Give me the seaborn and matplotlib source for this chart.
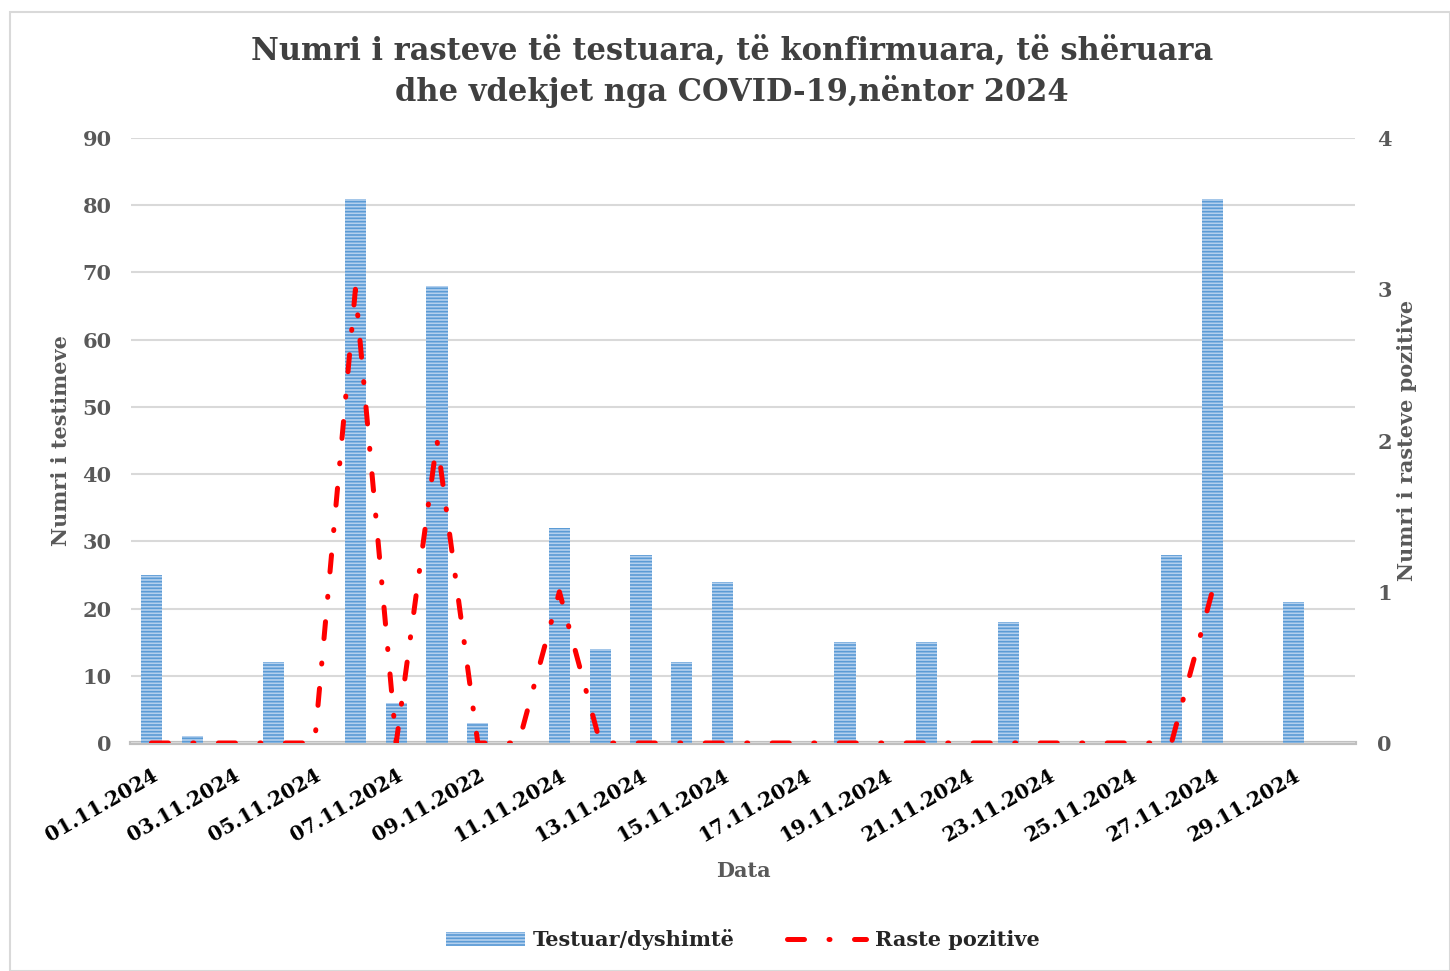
import matplotlib
matplotlib.use("Agg")
import matplotlib.pyplot as plt
import seaborn as sns
import numpy as np
import pandas as pd
from matplotlib.patches import Rectangle
from matplotlib.lines import Line2D

# ---- data ----
days = [f"{d:02d}.11.2024" for d in range(1, 31)]
tick_labels = ["01.11.2024", "03.11.2024", "05.11.2024", "07.11.2024", "09.11.2022",
               "11.11.2024", "13.11.2024", "15.11.2024", "17.11.2024", "19.11.2024",
               "21.11.2024", "23.11.2024", "25.11.2024", "27.11.2024", "29.11.2024"]
tested = [25, 1, 0, 12, 0, 81, 6, 68, 3, 0,
          32, 14, 28, 12, 24, 0, 0, 15, 0, 15,
          0, 18, 0, 0, 0, 28, 81, 0, 21, 0]
positive = [0, 0, 0, 0, 0, 3, 0, 2, 0, 0,
            1, 0, 0, 0, 0, 0, 0, 0, 0, 0,
            0, 0, 0, 0, 0, 0, 1]

title = "Numri i rasteve të testuara, të konfirmuara, të shëruara\ndhe vdekjet nga COVID-19,nëntor 2024"

sns.set_theme(style="white")
plt.rcParams['font.family'] = ['DejaVu Serif']
plt.rcParams['hatch.linewidth'] = 1.2
plt.rcParams['hatch.color'] = '#5B9BD5'

LW = 3.6
LINE_DASH = (3.4, 4.9, 0.2, 4.9)

fig = plt.figure(figsize=(14.5, 9.71), dpi=100)
ax = fig.add_axes([131/1450, 1 - 743/971, (1355-131)/1450, (743-138)/971])

df = pd.DataFrame({"day": days, "tested": tested})
sns.barplot(data=df, x="day", y="tested", ax=ax, color="#B4D0EE", width=0.52,
            saturation=1, linewidth=0)
for p in ax.patches:
    p.set_hatch("-----")
    p.set_edgecolor("#5B9BD5")
    p.set_linewidth(0)

ax.set_ylim(0, 90)
ax.set_yticks(range(0, 91, 10))
ax.set_xlim(-0.5, 29.5)
ax.yaxis.grid(True, color="#D9D9D9", linewidth=1.5)
ax.set_axisbelow(True)
for s in ["top", "right", "left"]:
    ax.spines[s].set_visible(False)
ax.spines["bottom"].set_color("#BFBFBF")
ax.spines["bottom"].set_linewidth(3)
ax.spines["bottom"].set_zorder(0.5)

ax.set_xticks(range(0, 30, 2))
ax.set_xticklabels(tick_labels, rotation=30, ha="right", rotation_mode="anchor",
                   fontsize=14.5, fontweight="bold", color="black")
ax.tick_params(axis="x", length=0, pad=16)
ax.tick_params(axis="y", length=0, pad=14, labelsize=15, labelcolor="#595959")
for t in ax.get_yticklabels():
    t.set_fontweight("bold")
ax.set_xlabel("Data", fontsize=15, fontweight="bold", color="#595959", labelpad=11)
ax.set_ylabel("Numri i testimeve", fontsize=15, fontweight="bold", color="#595959", labelpad=8)

ax2 = ax.twinx()
sns.lineplot(x=list(range(len(positive))), y=positive, ax=ax2, color="#FF0000",
             linewidth=LW, dashes=False)
line = ax2.lines[0]
line.set_dashes(LINE_DASH)
line.set_dash_capstyle("round")
ax2.set_ylim(0, 4)
ax2.set_yticks(range(0, 5))
ax2.set_xlim(-0.5, 29.5)
for s in ["top", "right", "left", "bottom"]:
    ax2.spines[s].set_visible(False)
ax2.tick_params(axis="y", length=0, pad=16, labelsize=15, labelcolor="#595959")
for t in ax2.get_yticklabels():
    t.set_fontweight("bold")
ax2.set_ylabel("Numri i rasteve pozitive", fontsize=15, fontweight="bold",
               color="#595959", labelpad=4)

fig.suptitle(title, x=0.505, y=0.963, fontsize=22, fontweight="bold", color="#404040",
             linespacing=1.3)

# legend
bar_handle = Rectangle((0, 0), 1, 1, facecolor="#B4D0EE", edgecolor="#5B9BD5",
                       hatch="-----", linewidth=0)
line_handle = Line2D([0], [0], color="#FF0000", linewidth=LW,
                     dashes=LINE_DASH, dash_capstyle="round")
fig.legend([bar_handle, line_handle], ["Testuar/dyshimtë", "Raste pozitive"],
           loc="center", bbox_to_anchor=(0.512, 1 - 940/971), ncol=2, frameon=False,
           prop={"family": "DejaVu Serif", "weight": "bold", "size": 15},
           handlelength=3.8, columnspacing=2.5, handletextpad=0.4)

# outer frame
fig.patches.append(Rectangle((10/1450, 0), 1 - 10/1450, 1 - 12/971, transform=fig.transFigure,
                             fill=False, edgecolor="#D9D9D9", linewidth=1.5))

fig.savefig("out.png", dpi=100)
